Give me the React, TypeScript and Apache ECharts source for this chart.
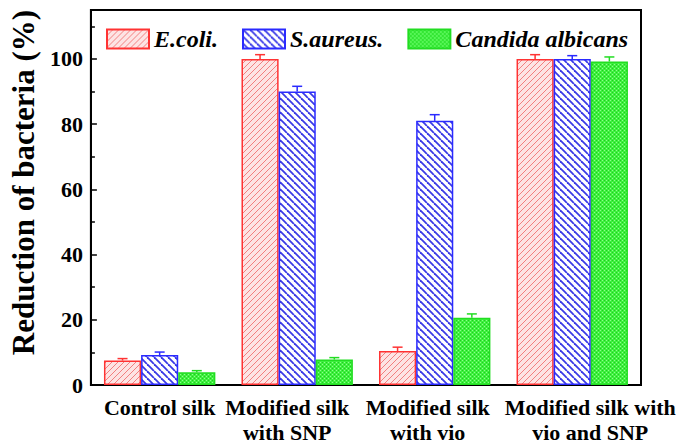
import React, { useEffect, useRef } from "react";
import * as echarts from "echarts";

const categories = ["Control silk", "Modified silk\nwith SNP", "Modified silk\nwith vio", "Modified silk with\nvio and SNP"];
const seriesNames = ["E.coli.", "S.aureus.", "Candida albicans"];
const ecoli = [7.5, 100, 10.4, 100];
const saureus = [9.2, 90, 81, 100];
const candida = [3.9, 7.8, 20.6, 99.2];
const ecoliErr = [0.6, 1.3, 1.2, 1.3];
const saureusErr = [0.9, 1.6, 1.9, 1.0];
const candidaErr = [0.5, 0.6, 1.2, 1.4];
const yTicks = [0, 20, 40, 60, 80, 100];

const SERIF = "Liberation Serif";
const CAT_GAP = 0.19;

function hatch(size: number, bg: string, stroke: string, lw: number, dir: number) {
  const c = document.createElement("canvas");
  c.width = size;
  c.height = size;
  const ctx = c.getContext("2d")!;
  ctx.fillStyle = bg;
  ctx.fillRect(0, 0, size, size);
  ctx.strokeStyle = stroke;
  ctx.lineWidth = lw;
  for (const k of [-size, 0, size]) {
    ctx.beginPath();
    if (dir > 0) {
      ctx.moveTo(k, size);
      ctx.lineTo(k + size, 0);
    } else {
      ctx.moveTo(k, 0);
      ctx.lineTo(k + size, size);
    }
    ctx.stroke();
  }
  return c;
}

function dots() {
  const c = document.createElement("canvas");
  c.width = 4;
  c.height = 4;
  const ctx = c.getContext("2d")!;
  ctx.fillStyle = "#3ef03e";
  ctx.fillRect(0, 0, 4, 4);
  ctx.fillStyle = "#22c922";
  ctx.fillRect(0, 0, 1, 1);
  ctx.fillRect(2, 2, 1, 1);
  ctx.fillStyle = "#8dff8d";
  ctx.fillRect(2, 0, 1, 1);
  ctx.fillRect(0, 2, 1, 1);
  return c;
}

export default function App() {
  const ref = useRef<HTMLDivElement>(null);
  useEffect(() => {
    const chart = echarts.init(ref.current!, null, { renderer: "svg" });
    const fills = [
      { image: hatch(6, "#fde4e4", "#f28080", 1, 1), repeat: "repeat" },
      { image: hatch(7, "#ffffff", "#3a3ae6", 1.8, -1), repeat: "repeat" },
      { image: dots(), repeat: "repeat" },
    ];
    const borders = ["#ff3333", "#2a2aff", "#22dd22"];
    const values = [ecoli, saureus, candida];
    const errs = [ecoliErr, saureusErr, candidaErr];

    const barSeries = seriesNames.map((name, k) => ({
      name,
      type: "bar",
      data: values[k],
      barGap: "0%",
      barCategoryGap: CAT_GAP * 100 + "%",
      itemStyle: { color: fills[k], borderColor: borders[k], borderWidth: 1.5 },
      z: 2,
    }));

    const errSeries = seriesNames.map((name, k) => ({
      name: name + " err",
      type: "custom",
      data: values[k].map((v, i) => [i, v, errs[k][i]]),
      encode: { x: 0, y: 1 },
      z: 3,
      renderItem: (params: any, api: any) => {
        const x = api.value(0);
        const v = api.value(1);
        const e = api.value(2);
        const base = api.coord([x, v]);
        const top = api.coord([x, v + e]);
        const band = api.size([1, 0])[0];
        const barW = (band * (1 - CAT_GAP)) / 3;
        const cx = base[0] + (k - 1) * barW;
        const style = { stroke: borders[k], lineWidth: 1.5 };
        return {
          type: "group",
          children: [
            { type: "line", shape: { x1: cx, y1: base[1], x2: cx, y2: top[1] }, style },
            { type: "line", shape: { x1: cx - 5, y1: top[1], x2: cx + 5, y2: top[1] }, style },
          ],
        };
      },
    }));

    const richShift: Record<string, any> = {};
    const shifts = [[0, 0], [0, 20], [0, 14], [36, 0]];
    shifts.forEach((s, i) => {
      richShift["c" + i] = {
        fontFamily: SERIF,
        fontWeight: "bold",
        fontSize: 22,
        color: "#000",
        lineHeight: 25,
        padding: [0, s[1], 0, s[0]],
      };
    });

    chart.setOption({
      animation: false,
      backgroundColor: "#fff",
      textStyle: { fontFamily: SERIF },
      grid: {
        left: 90,
        right: 43,
        top: 10,
        bottom: 59,
        show: true,
        borderColor: "#000",
        borderWidth: 2,
        backgroundColor: "transparent",
      },
      legend: {
        data: seriesNames,
        left: 106,
        top: 27,
        padding: 0,
        itemWidth: 42,
        itemHeight: 19,
        itemGap: 24,
        icon: "rect",
        textStyle: {
          fontFamily: SERIF,
          fontWeight: "bold",
          fontStyle: "italic",
          fontSize: 24,
          color: "#000",
        },
      },
      xAxis: {
        type: "category",
        data: categories,
        axisLine: { lineStyle: { color: "#000", width: 2 } },
        axisTick: { show: false },
        axisLabel: {
          interval: 0,
          margin: 10,
          fontFamily: SERIF,
          fontWeight: "bold",
          fontSize: 22,
          color: "#000",
          lineHeight: 25,
          formatter: (val: string, idx: number) =>
            val
              .split("\n")
              .map((line) => "{c" + idx + "|" + line + "}")
              .join("\n"),
          rich: richShift,
        },
      },
      yAxis: {
        type: "value",
        min: 0,
        max: 115,
        interval: 20,
        name: "Reduction of bacteria (%)",
        nameLocation: "middle",
        nameGap: 44,
        nameTextStyle: {
          fontFamily: SERIF,
          fontWeight: "bold",
          fontSize: 31,
          color: "#000",
          padding: [0, 0, 0, 30],
        },
        axisLine: { show: true, lineStyle: { color: "#000", width: 2 } },
        axisTick: { show: true, inside: true, length: 6, lineStyle: { color: "#000", width: 1.5 } },
        minorTick: { show: true, splitNumber: 2, length: 4, lineStyle: { color: "#000", width: 1.5 } },
        splitLine: { show: false },
        axisLabel: {
          margin: 8,
          fontFamily: SERIF,
          fontWeight: "bold",
          fontSize: 22,
          color: "#000",
          formatter: (v: number) => (yTicks.indexOf(v) >= 0 ? String(v) : ""),
        },
      },
      series: [...barSeries, ...errSeries],
    });
    return () => chart.dispose();
  }, []);
  return (
    <div
      ref={ref}
      style={{ position: "absolute", left: 0, top: 0, width: 684, height: 445 }}
    />
  );
}
